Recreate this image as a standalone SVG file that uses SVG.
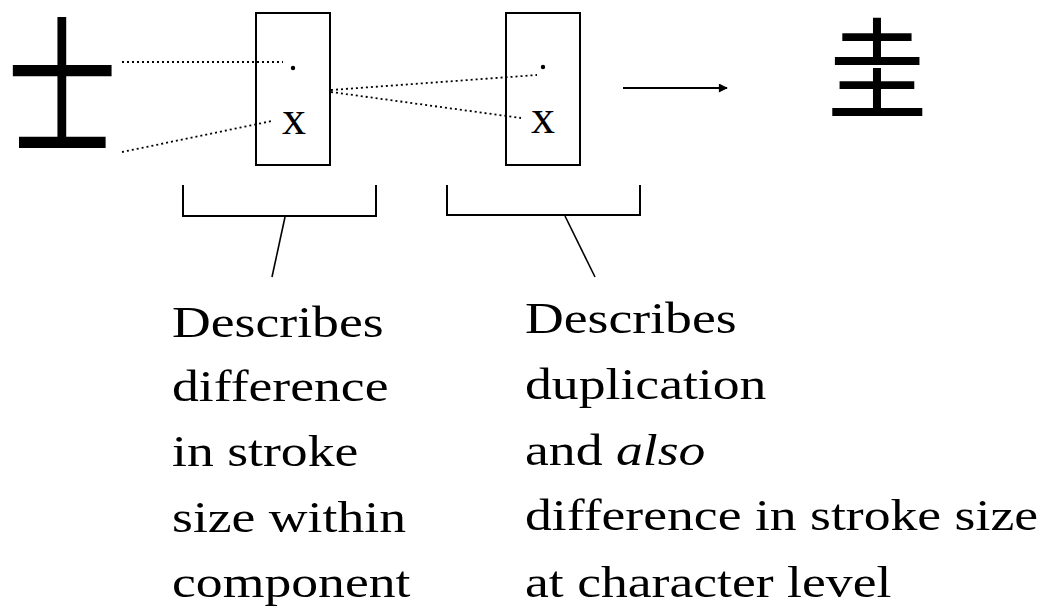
<svg xmlns="http://www.w3.org/2000/svg" width="1050" height="608" viewBox="0 0 1050 608">
<defs>
<style>
.box{fill:none;stroke:#000;stroke-width:2}
.dot{stroke:#000;stroke-width:1.8;stroke-dasharray:2 3;fill:none}
.brk{fill:none;stroke:#000;stroke-width:2}
.lead{stroke:#000;stroke-width:1.6;fill:none}
.lbl{font-family:"Liberation Serif","Times New Roman",serif;font-size:44px;fill:#000}
.bx{font-family:"Liberation Serif","Times New Roman",serif;font-size:48px;fill:#000;text-anchor:middle}
.cjk{font-family:"Noto Sans CJK SC","Noto Sans CJK JP",sans-serif;fill:#000}
</style>
<marker id="ah" viewBox="0 0 10 10" refX="9" refY="5" markerWidth="10" markerHeight="9" markerUnits="userSpaceOnUse" orient="auto">
<path d="M0,0 L10,5 L0,10 z" fill="#000"/>
</marker>
</defs>
<rect width="1050" height="608" fill="#fff"/>
<g id="char-shi">
<text class="cjk" font-weight="400" font-size="172" transform="translate(62,144) scale(0.64,0.88)" text-anchor="middle">士</text>
</g>
<g id="box1">
<rect class="box" x="256" y="13" width="74" height="152"/>
<circle cx="293" cy="68" r="2.2" fill="#000"/>
<text class="bx" x="294" y="134">x</text>
</g>
<g id="box2">
<rect class="box" x="506" y="13" width="74" height="152"/>
<circle cx="543" cy="67" r="2.2" fill="#000"/>
<text class="bx" x="543" y="133">x</text>
</g>
<g id="char-gui">
<text class="cjk" font-weight="400" font-size="125" transform="translate(877,111) scale(0.81,0.885)" text-anchor="middle">圭</text>
</g>
<g id="connectors">
<line class="dot" x1="122" y1="62" x2="283" y2="62"/>
<line class="dot" x1="122" y1="152" x2="272" y2="121"/>
<line class="dot" x1="331" y1="90" x2="537" y2="75"/>
<line class="dot" x1="331" y1="92" x2="521" y2="118"/>
<line x1="623" y1="88" x2="727" y2="88" stroke="#000" stroke-width="2" marker-end="url(#ah)"/>
<path class="brk" d="M183,185 V216 H376 V185"/>
<path class="brk" d="M447,185 V215 H640 V185"/>
<line class="lead" x1="285" y1="217" x2="272" y2="277"/>
<line class="lead" x1="565" y1="216" x2="595" y2="277"/>
</g>
<g id="label-left">
<text class="lbl" transform="translate(172,337) scale(1.22,1)">Describes</text>
<text class="lbl" transform="translate(172,401) scale(1.22,1)">difference</text>
<text class="lbl" transform="translate(172,466) scale(1.22,1)">in stroke</text>
<text class="lbl" transform="translate(172,532) scale(1.22,1)">size within</text>
<text class="lbl" transform="translate(172,597) scale(1.22,1)">component</text>
</g>
<g id="label-right">
<text class="lbl" transform="translate(525,333) scale(1.22,1)">Describes</text>
<text class="lbl" transform="translate(525,399) scale(1.22,1)">duplication</text>
<text class="lbl" transform="translate(525,465) scale(1.22,1)">and <tspan font-style="italic">also</tspan></text>
<text class="lbl" transform="translate(525,530) scale(1.22,1)">difference in stroke size</text>
<text class="lbl" transform="translate(525,597) scale(1.22,1)">at character level</text>
</g>
</svg>
